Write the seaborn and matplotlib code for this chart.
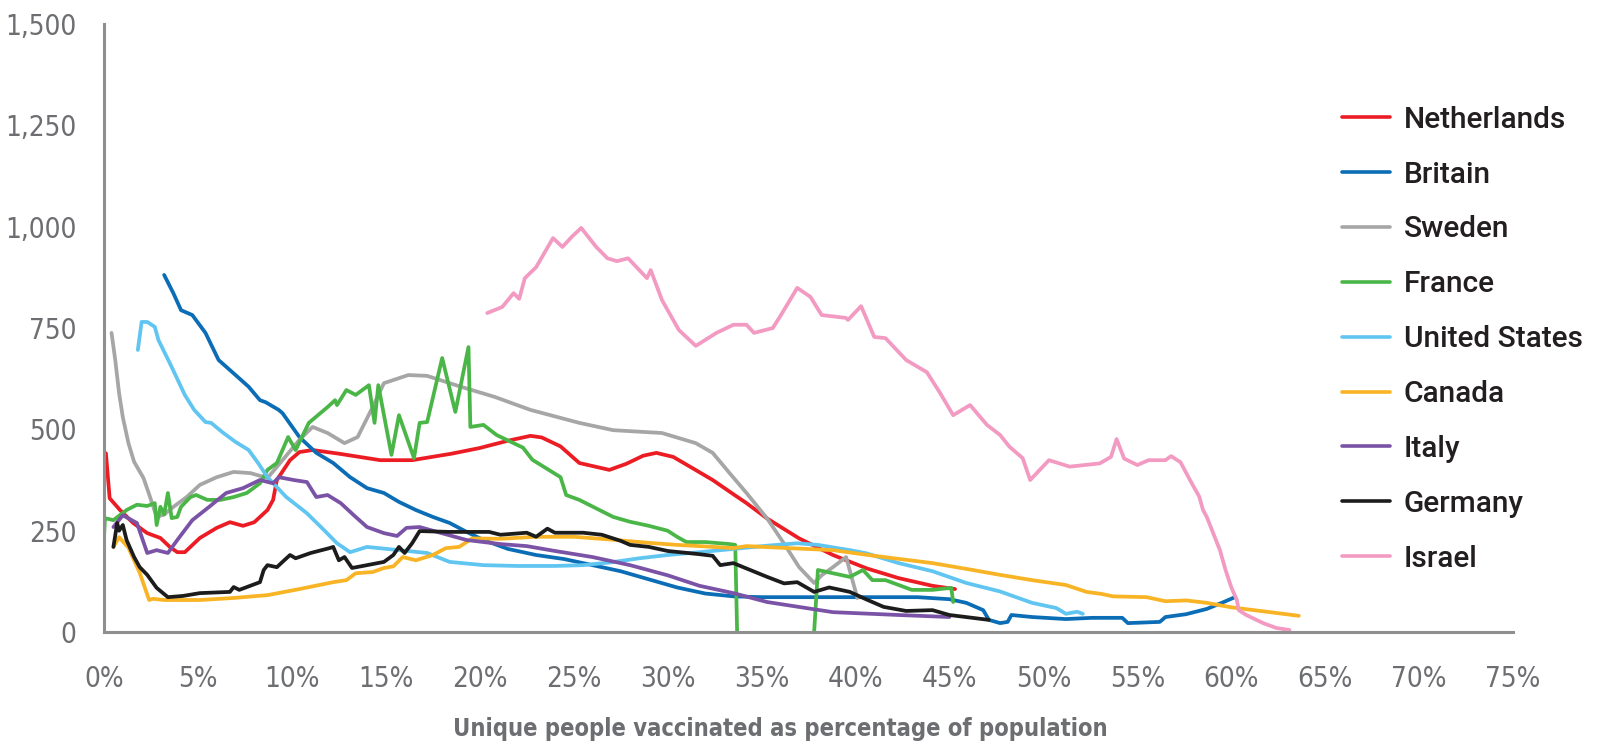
import pandas as pd
import seaborn as sns
import matplotlib.pyplot as plt
from matplotlib.ticker import FuncFormatter

# Weekly cases per million vs share of population vaccinated
countries = ['Netherlands', 'Britain', 'Sweden', 'France', 'United States',
             'Canada', 'Italy', 'Germany', 'Israel']
colors = ['#ec1c24', '#0b6db5', '#a6a6a6', '#4bb648', '#60c5f1',
          '#f8b424', '#7b53a6', '#1c1c1c', '#f29ac2']

nl_x = [0.1, 0.3, 0.85, 1.55, 2.3, 3.0, 3.5, 3.9, 4.3, 5.1, 6.0, 6.7, 7.4, 8.0, 8.7, 9.0, 9.2,
        9.9, 10.4, 11.1, 12.5, 14.7, 16.4, 18.5, 20.0, 21.5, 22.7, 23.3, 24.3, 25.3, 26.9, 27.8,
        28.7, 29.4, 30.3, 31.3, 32.4, 33.5, 34.2, 35.3, 37.0, 38.8, 40.6, 42.3, 44.1, 45.3]
nl_y = [441, 330, 301, 269, 244, 232, 210, 197, 197, 232, 257, 271, 262, 271, 301, 326, 375,
        424, 444, 449, 440, 424, 424, 440, 454, 472, 484, 480, 458, 417, 400, 415,
        435, 442, 432, 405, 375, 340, 318, 280, 231, 190, 157, 133, 114, 106]

gb_x = [3.2, 3.7, 4.1, 4.7, 5.4, 6.1, 7.0, 7.7, 8.3, 8.6, 9.3, 9.5, 10.4, 11.3, 12.2, 13.1, 14.0,
        14.9, 15.7, 16.6, 17.5, 18.4, 19.3, 20.2, 21.5, 23.0, 24.5, 26.0, 27.5, 29.0, 30.5, 32.0,
        33.5, 35.0, 37.0, 40.6, 43.3, 45.0, 45.9, 46.8, 47.1, 47.7, 48.1, 48.3, 49.4, 51.2, 52.6,
        54.2, 54.5, 56.2, 56.5, 57.6, 58.7, 59.5, 60.2]
gb_y = [881, 835, 794, 782, 738, 671, 634, 605, 572, 567, 548, 540, 481, 442, 417, 382, 355,
        343, 321, 301, 284, 269, 247, 227, 205, 190, 180, 165, 150, 130, 110, 95,
        88, 86, 86, 86, 86, 81, 72, 54, 30, 22, 25, 42, 37, 32, 35,
        35, 22, 25, 37, 44, 57, 72, 86]

se_x = [0.4, 0.6, 0.8, 1.0, 1.3, 1.6, 2.1, 2.4, 2.8, 3.2, 3.7, 4.4, 5.1, 6.0, 6.9, 7.8, 8.7,
        9.5, 10.4, 11.1, 11.9, 12.8, 13.5, 14.3, 14.9, 16.2, 17.2, 19.0, 20.8, 22.7, 25.3, 27.1,
        29.7, 31.5, 32.4, 33.3, 34.2, 35.3, 36.2, 37.0, 37.8, 38.2, 38.8, 39.5, 40.1]
se_y = [738, 670, 590, 530, 466, 420, 380, 340, 284, 290, 309, 333, 363, 382, 395, 392, 380,
        424, 474, 506, 491, 466, 481, 555, 614, 634, 632, 605, 580, 548, 516, 498,
        491, 466, 442, 392, 343, 280, 218, 160, 121, 140, 160, 185, 84]

# France drops to zero and restarts: two segments
fr1_x = [0.0, 0.05, 0.5, 1.2, 1.75, 2.3, 2.7, 2.8, 3.0, 3.2, 3.4, 3.6, 3.9, 4.1, 4.6, 4.9, 5.5,
         6.2, 6.9, 7.6, 8.3, 8.7, 9.2, 9.8, 10.2, 10.9, 11.9, 12.3, 12.4, 12.9, 13.4, 14.1, 14.4,
         14.6, 15.3, 15.7, 16.5, 16.8, 17.2, 18.0, 18.7, 19.4, 19.5, 20.2, 20.9, 21.8, 22.3, 22.8,
         23.5, 24.3, 24.6, 25.3, 27.1, 28.0, 29.0, 30.0, 30.5, 31.0, 32.0, 33.3, 33.6, 33.7]
fr1_y = [234, 281, 276, 301, 314, 311, 318, 264, 309, 290, 343, 281, 284, 309, 333, 338, 326,
         326, 333, 343, 367, 400, 417, 481, 449, 516, 555, 572, 560, 597, 585, 609, 516,
         609, 437, 535, 429, 516, 518, 676, 543, 703, 506, 511, 486, 466, 455, 425,
         405, 382, 338, 326, 284, 272, 262, 250, 235, 222, 222, 217, 215, 0]
fr2_x = [37.8, 38.0, 38.8, 39.7, 40.4, 40.9, 41.6, 43.0, 44.1, 45.1, 45.2]
fr2_y = [0, 153, 145, 136, 153, 128, 128, 104, 104, 109, 74]

us_x = [1.8, 2.0, 2.3, 2.7, 2.9, 3.6, 4.3, 4.8, 5.4, 5.7, 6.3, 7.0, 7.7, 8.2, 8.7, 9.7, 10.8,
        11.7, 12.4, 13.1, 14.0, 15.7, 17.2, 18.4, 20.2, 22.0, 24.0, 25.5, 27.0, 28.5, 30.0, 31.7,
        33.5, 35.3, 36.9, 38.0, 39.7, 40.6, 42.3, 44.1, 45.9, 47.7, 49.4, 50.7, 51.2, 51.8, 52.1]
us_y = [696, 765, 765, 753, 720, 654, 585, 548, 518, 516, 493, 469, 449, 417, 382, 333, 293,
        252, 219, 197, 210, 202, 195, 173, 165, 163, 163, 165, 172, 182, 190, 197,
        205, 213, 219, 215, 202, 194, 170, 150, 121, 100, 72, 59, 45, 50, 45]

ca_x = [0.5, 0.8, 1.3, 1.9, 2.4, 2.6, 3.2, 5.1, 6.9, 8.7, 10.4, 12.2, 12.9, 13.4, 14.3, 14.9,
        15.4, 15.9, 16.6, 17.5, 18.2, 18.9, 19.6, 21.1, 23.0, 25.0, 27.0, 29.0, 30.5, 31.7, 33.5,
        34.2, 36.0, 38.8, 41.0, 44.1, 46.0, 47.7, 49.4, 51.2, 52.3, 53.1, 53.7, 55.5, 56.5, 57.6,
        58.7, 60.0, 61.9, 63.6]
ca_y = [210, 234, 208, 146, 79, 82, 79, 79, 84, 91, 106, 123, 128, 145, 148, 158,
        162, 185, 177, 190, 207, 210, 231, 230, 235, 235, 228, 220, 215, 212, 207,
        212, 208, 202, 188, 170, 155, 141, 128, 116, 99, 94, 88, 86, 76, 78,
        72, 61, 50, 40]

it_x = [0.5, 1.0, 1.75, 2.3, 2.8, 3.4, 3.9, 4.7, 5.6, 6.5, 7.4, 8.3, 9.0, 9.3, 10.1, 10.8, 11.3,
        11.9, 12.6, 13.3, 14.0, 14.9, 15.6, 16.1, 16.8, 17.5, 19.3, 21.1, 22.5, 24.0, 26.0, 28.0,
        30.0, 31.7, 33.5, 35.3, 38.8, 42.3, 45.0]
it_y = [259, 288, 269, 195, 202, 195, 227, 276, 309, 343, 355, 375, 367, 382, 375, 370, 333,
        338, 318, 288, 259, 244, 237, 257, 259, 250, 227, 217, 212, 200, 185, 165,
        140, 114, 96, 74, 49, 42, 37]

de_x = [0.5, 0.7, 0.8, 1.0, 1.2, 1.6, 1.9, 2.3, 2.8, 3.4, 4.2, 5.1, 6.7, 6.9, 7.2, 8.3, 8.5,
        8.7, 9.2, 9.5, 9.9, 10.2, 11.0, 12.0, 12.2, 12.5, 12.8, 13.2, 14.0, 14.9, 15.4, 15.7,
        16.0, 16.4, 16.8, 18.4, 20.5, 21.1, 22.5, 23.0, 23.6, 24.0, 25.5, 26.5, 27.5, 28.0, 29.0,
        30.0, 31.7, 32.4, 32.8, 33.5, 35.3, 36.2, 36.9, 37.8, 38.6, 39.7, 40.6, 41.5, 42.7, 44.1,
        45.0, 47.1]
de_y = [210, 269, 250, 264, 227, 185, 160, 141, 109, 86, 89, 96, 99, 111, 104, 123, 153,
        165, 160, 173, 190, 182, 195, 207, 210, 177, 185, 158, 165, 173, 190, 210,
        195, 219, 249, 247, 247, 240, 245, 235, 255, 245, 245, 240, 225, 215, 210,
        200, 192, 188, 165, 170, 136, 120, 123, 99, 110, 99, 80, 62, 52, 54,
        42, 30]

il_x = [20.4, 21.2, 21.8, 22.1, 22.4, 23.0, 23.9, 24.4, 24.9, 25.4, 26.2, 26.8, 27.3, 27.9, 28.9,
        29.1, 29.7, 30.6, 31.5, 32.6, 33.5, 34.2, 34.6, 35.6, 36.1, 36.9, 37.6, 38.2, 39.5, 39.6,
        40.3, 41.0, 41.6, 42.7, 43.8, 44.5, 45.2, 46.1, 47.0, 47.7, 48.2, 48.9, 49.3, 50.3, 51.4,
        53.0, 53.6, 53.9, 54.3, 55.0, 55.6, 56.5, 56.8, 57.3, 57.9, 58.3, 58.5, 58.7, 59.4, 59.7,
        60.0, 60.3, 60.4, 60.8, 61.7, 62.4, 63.1]
il_y = [787, 802, 836, 822, 873, 900, 972, 950, 975, 997, 950, 922, 915, 922, 873,
        893, 819, 745, 706, 738, 758, 758, 738, 750, 787, 849, 827, 782, 775, 770,
        804, 728, 725, 671, 641, 590, 535, 560, 511, 486, 457, 429, 375, 424, 408,
        416, 432, 476, 428, 412, 424, 424, 434, 419, 367, 334, 301, 284, 202, 153,
        111, 79, 54, 42, 22, 10, 5]

series = [
    ('Netherlands', 0, nl_x, nl_y),
    ('Britain', 0, gb_x, gb_y),
    ('Sweden', 0, se_x, se_y),
    ('France', 0, fr1_x, fr1_y),
    ('France', 1, fr2_x, fr2_y),
    ('United States', 0, us_x, us_y),
    ('Canada', 0, ca_x, ca_y),
    ('Italy', 0, it_x, it_y),
    ('Germany', 0, de_x, de_y),
    ('Israel', 0, il_x, il_y),
]
frames = [pd.DataFrame({'country': name, 'seg': seg, 'pct': xs, 'rate': ys})
          for name, seg, xs, ys in series]
df = pd.concat(frames, ignore_index=True)

sns.set_style('white')
plt.rcParams['font.family'] = ['DejaVu Sans']
plt.rcParams['font.stretch'] = 'condensed'

grey_txt = '#6d6e71'
grey_axis = '#8f8f8f'

fig = plt.figure(figsize=(15.98, 7.44), dpi=100)
ax = fig.add_axes([0.0651, 0.1505, 0.8817, 0.8172])

sns.lineplot(data=df, x='pct', y='rate', hue='country', hue_order=countries,
             units='seg', estimator=None, sort=False, palette=colors,
             linewidth=2.7, ax=ax)
for line in ax.get_lines():
    line.set_solid_joinstyle('round')

ax.set_xlim(0, 75)
ax.set_ylim(0, 1500)
ax.set_xticks(range(0, 80, 5))
ax.set_yticks(range(0, 1750, 250))
ax.xaxis.set_major_formatter(FuncFormatter(lambda v, p: f'{int(v)}%'))
ax.yaxis.set_major_formatter(FuncFormatter(lambda v, p: f'{int(v):,}'))

for side in ['top', 'right']:
    ax.spines[side].set_visible(False)
for side in ['left', 'bottom']:
    ax.spines[side].set_color(grey_axis)
    ax.spines[side].set_linewidth(2.2)

ax.tick_params(axis='x', length=16, width=1.6, color=grey_axis, pad=8,
               labelsize=20, labelcolor=grey_txt)
ax.tick_params(axis='y', length=12, width=1.6, color=grey_axis, pad=8,
               labelsize=20, labelcolor=grey_txt)

ax.set_ylabel('')
ax.set_xlabel('Unique people vaccinated as percentage of population',
              fontsize=17, fontweight='bold', color=grey_txt)
ax.xaxis.set_label_coords(0.48, -0.14)

handles, labels = ax.get_legend_handles_labels()
leg = ax.legend(handles, labels, loc='upper left', bbox_to_anchor=(0.840, 0.858),
                bbox_transform=fig.transFigure, frameon=False,
                prop={'family': ['Roboto', 'DejaVu Sans'], 'weight': 'medium',
                      'size': 21.5, 'stretch': 'normal'},
                handlelength=1.6, handletextpad=0.45, labelspacing=0.9,
                borderpad=0, borderaxespad=0)
for line in leg.get_lines():
    line.set_linewidth(2.6)
for txt in leg.get_texts():
    txt.set_color('#231f20')

fig.savefig('out.png', dpi=100)
